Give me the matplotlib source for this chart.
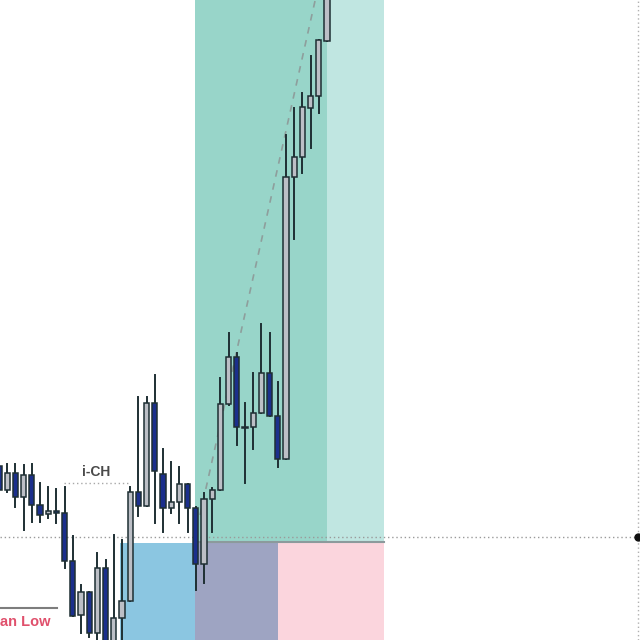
import numpy as np
import pandas as pd
import matplotlib
matplotlib.use("Agg")
import matplotlib.pyplot as plt
from matplotlib.patches import Rectangle

# candle data (price units, bottom of picture = 0)
opens = [174, 150, 167, 143, 165, 135, 126, 129, 127, 79, 25, 48, 7, 72, -10, 22, 39,
         148, 134, 237, 166, 132, 138, 156, 132, 76, 141, 150, 236, 283, 213, 213, 227,
         267, 224, 181, 463, 483, 532, 544, 599]
highs = [178, 176, 176, 175, 176, 157, 153, 151, 153, 104, 55, 48, 87, 80, 105, 100, 153,
         243, 243, 265, 191, 178, 173, 156, 133, 147, 152, 262, 307, 287, 237, 267, 316,
         307, 258, 505, 532, 547, 584, 600, 660]
lows = [145, 148, 133, 110, 118, 118, 122, 117, 72, 24, 7, 3, -5, -20, -20, -15, 39,
        124, 134, 117, 108, 127, 117, 108, 50, 57, 108, 150, 235, 195, 157, 191, 227,
        224, 173, 181, 401, 467, 492, 527, 599]
closes = [150, 167, 143, 165, 135, 125, 129, 127, 79, 24, 48, 7, 72, -15, 22, 39, 148,
          134, 237, 169, 132, 138, 156, 132, 76, 141, 150, 236, 283, 213, 212, 227, 267,
          224, 181, 463, 483, 533, 544, 600, 660]

df = pd.DataFrame({'open': opens, 'high': highs, 'low': lows, 'close': closes})

# levels / zones (candle index, price)
entry_level = 103
tp_zone = (23.9, 40.0, 99, 700)
tp_zone_ext = (40.0, 46.95, 99, 700)
zones_low = [(14.7, 23.9, '#8bc6e1'), (23.9, 34.0, '#9ea4c2'), (34.0, 46.95, '#fbd5dd')]
ich_level = 157
low_level = 32
trend_x = [24.51, 38.78]
trend_y = [125, 648]

BULL = '#bcbfc6'
BEAR = '#1b2f8c'
EDGE = '#1e2f33'

fig = plt.figure(figsize=(6.4, 6.4), dpi=100)
ax = fig.add_axes([0, 0, 1, 1])
ax.set_xlim(0.12, 78.17)
ax.set_ylim(0, 640)
ax.axis('off')

# reward zone
ax.add_patch(Rectangle((tp_zone[0], tp_zone[2]), tp_zone[1] - tp_zone[0],
                       tp_zone[3] - tp_zone[2], color='#98d5c9', lw=0, zorder=0))
ax.add_patch(Rectangle((tp_zone_ext[0], tp_zone_ext[2]), tp_zone_ext[1] - tp_zone_ext[0],
                       tp_zone_ext[3] - tp_zone_ext[2], color='#c0e6e1', lw=0, zorder=0))
# lower zones
for x0, x1, c in zones_low:
    ax.add_patch(Rectangle((x0, -10), x1 - x0, 107, color=c, lw=0, zorder=0))
ax.plot([23.9, 46.95], [98.5, 98.5], color='#8c9a9c', lw=1.5, zorder=1)

# dotted entry level + right vertical
ax.axhline(entry_level, color='#9a9a9a', ls=(0, (1, 2)), lw=1.0, zorder=1)
ax.axvline(77.9, color='#b0b0b0', ls=(0, (1, 2)), lw=1.0, zorder=1)
ax.plot([77.9], [entry_level], 'o', color='#111111', ms=5, zorder=5)

# trend dashed line
ax.plot(trend_x, trend_y, color='#8e9e9c', ls=(0, (4, 4)), lw=1.2, zorder=2)

# i-CH
ax.plot([7.93, 15.98], [ich_level, ich_level], color='#a8a8a8', ls=(0, (1, 2)), lw=1.0, zorder=1)
ax.text(11.8, ich_level + 11, 'i-CH', ha='center', va='center', fontsize=10,
        fontweight='bold', color='#4a4a4a', family='Liberation Sans')

# low label
ax.plot([0, 7.07], [low_level, low_level], color='#7d7d7d', lw=1.5, zorder=1)
ax.text(0.12, 18, 'an Low', ha='left', va='center', fontsize=10.5,
        fontweight='bold', color='#e0506c', family='Liberation Sans')

# candles
w = 0.62
for i, row in df.iterrows():
    bull = row['close'] >= row['open']
    ax.plot([i, i], [row['low'], row['high']], color=EDGE, lw=1.4, zorder=3)
    bottom = min(row['open'], row['close'])
    h = max(abs(row['close'] - row['open']), 1.5)
    ax.add_patch(Rectangle((i - w / 2, bottom), w, h, facecolor=BULL if bull else BEAR,
                           edgecolor=EDGE, lw=1.1, zorder=4))

fig.savefig('out.png', dpi=100)
